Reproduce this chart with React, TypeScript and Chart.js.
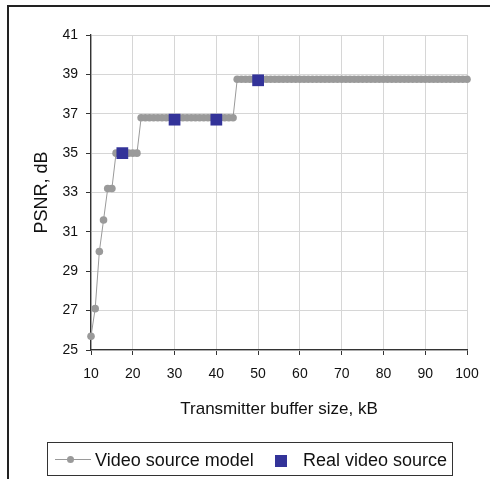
import React, { useEffect, useRef } from "react";
import { Chart, registerables } from "chart.js";

Chart.register(...registerables);

const FONT = "'Liberation Sans', Arial, sans-serif";

const bufferSizes = [
  10, 11, 12, 13, 14, 15, 16, 17, 18, 19, 20, 21, 22, 23, 24, 25, 26, 27, 28, 29,
  30, 31, 32, 33, 34, 35, 36, 37, 38, 39, 40, 41, 42, 43, 44, 45, 46, 47, 48, 49,
  50, 51, 52, 53, 54, 55, 56, 57, 58, 59, 60, 61, 62, 63, 64, 65, 66, 67, 68, 69,
  70, 71, 72, 73, 74, 75, 76, 77, 78, 79, 80, 81, 82, 83, 84, 85, 86, 87, 88, 89,
  90, 91, 92, 93, 94, 95, 96, 97, 98, 99, 100,
];

const modelPsnr = [
  25.7, 27.1, 30.0, 31.6, 33.2, 33.2, 35.0, 35.0, 35.0, 35.0, 35.0, 35.0, 36.8, 36.8, 36.8, 36.8, 36.8, 36.8, 36.8, 36.8,
  36.8, 36.8, 36.8, 36.8, 36.8, 36.8, 36.8, 36.8, 36.8, 36.8, 36.8, 36.8, 36.8, 36.8, 36.8, 38.75, 38.75, 38.75, 38.75, 38.75,
  38.75, 38.75, 38.75, 38.75, 38.75, 38.75, 38.75, 38.75, 38.75, 38.75, 38.75, 38.75, 38.75, 38.75, 38.75, 38.75, 38.75, 38.75, 38.75, 38.75,
  38.75, 38.75, 38.75, 38.75, 38.75, 38.75, 38.75, 38.75, 38.75, 38.75, 38.75, 38.75, 38.75, 38.75, 38.75, 38.75, 38.75, 38.75, 38.75, 38.75,
  38.75, 38.75, 38.75, 38.75, 38.75, 38.75, 38.75, 38.75, 38.75, 38.75, 38.75,
];

const realBufferSizes = [17.5, 30, 40, 50];
const realPsnr = [35.0, 36.7, 36.7, 38.7];

const xAxisTitle = "Transmitter buffer size, kB";
const yAxisTitle = "PSNR, dB";
const modelLabel = "Video source model";
const realLabel = "Real video source";

export default function App() {
  const ref = useRef<HTMLCanvasElement>(null);

  useEffect(() => {
    const modelData = bufferSizes.map((x, i) => ({ x, y: modelPsnr[i] }));
    const realData = realBufferSizes.map((x, i) => ({ x, y: realPsnr[i] }));
    const chart = new Chart(ref.current!, {
      type: "scatter",
      data: {
        datasets: [
          {
            label: modelLabel,
            data: modelData,
            showLine: true,
            clip: false,
            borderColor: "#9a9a9a",
            borderWidth: 1,
            backgroundColor: "#9a9a9a",
            pointRadius: 3.8,
            pointBorderWidth: 0,
            pointBackgroundColor: "#9a9a9a",
            order: 2,
          },
          {
            label: realLabel,
            data: realData,
            showLine: false,
            clip: false,
            pointStyle: "rect",
            pointRadius: 8.3,
            pointBorderWidth: 0,
            pointBackgroundColor: "#333399",
            backgroundColor: "#333399",
            borderColor: "#333399",
            order: 1,
          },
        ],
      },
      options: {
        animation: false,
        responsive: false,
        devicePixelRatio: 1,
        layout: { padding: { left: 0, top: 35, right: 23, bottom: 49 } },
        plugins: { legend: { display: false }, tooltip: { enabled: false } },
        scales: {
          x: {
            type: "linear",
            min: 10,
            max: 100,
            afterFit: (s: any) => {
              s.height = 80;
            },
            ticks: {
              stepSize: 10,
              padding: 11,
              color: "#111",
              font: { family: FONT, size: 14 },
            },
            grid: {
              color: "#d6d6d6",
              lineWidth: 1,
              tickColor: "#333",
              tickLength: 5,
              drawTicks: true,
            },
            border: { color: "#333", width: 1.3 },
            title: {
              display: true,
              text: xAxisTitle,
              color: "#111",
              font: { family: FONT, size: 17 },
              padding: { top: 0, bottom: 10 },
            },
          },
          y: {
            type: "linear",
            min: 25,
            max: 41,
            afterFit: (s: any) => {
              s.width = 91;
            },
            ticks: {
              stepSize: 2,
              padding: 8,
              color: "#111",
              font: { family: FONT, size: 14 },
            },
            grid: {
              color: "#d6d6d6",
              lineWidth: 1,
              tickColor: "#333",
              tickLength: 5,
              drawTicks: true,
            },
            border: { color: "#333", width: 1.3 },
            title: {
              display: true,
              text: yAxisTitle,
              color: "#111",
              font: { family: FONT, size: 18 },
              padding: { top: 31, bottom: 0 },
            },
          },
        },
      },
    });
    return () => chart.destroy();
  }, []);

  return (
    <div
      style={{
        position: "fixed",
        left: 0,
        top: 0,
        width: 490,
        height: 479,
        background: "#fff",
        overflow: "hidden",
      }}
    >
      <div
        style={{
          position: "absolute",
          left: 7,
          top: 5,
          width: 500,
          height: 500,
          borderTop: "2px solid #222",
          borderLeft: "2px solid #222",
        }}
      />
      <canvas
        ref={ref}
        width={490}
        height={479}
        style={{ position: "absolute", left: 0, top: 0, width: 490, height: 479 }}
      />
      <div
        style={{
          position: "absolute",
          left: 47,
          top: 442,
          width: 406,
          height: 34,
          boxSizing: "border-box",
          border: "1px solid #333",
          fontFamily: FONT,
          fontSize: 18,
          color: "#111",
          background: "#fff",
        }}
      >
        <div style={{ position: "absolute", left: 7, top: 16, width: 36, height: 1, background: "#9a9a9a" }} />
        <div
          style={{
            position: "absolute",
            left: 19,
            top: 13,
            width: 7,
            height: 7,
            borderRadius: "50%",
            background: "#9a9a9a",
          }}
        />
        <span style={{ position: "absolute", left: 47, top: 0, lineHeight: "34px", whiteSpace: "nowrap" }}>
          {modelLabel}
        </span>
        <div style={{ position: "absolute", left: 227, top: 12, width: 12, height: 12, background: "#333399" }} />
        <span style={{ position: "absolute", left: 255, top: 0, lineHeight: "34px", whiteSpace: "nowrap" }}>
          {realLabel}
        </span>
      </div>
    </div>
  );
}
